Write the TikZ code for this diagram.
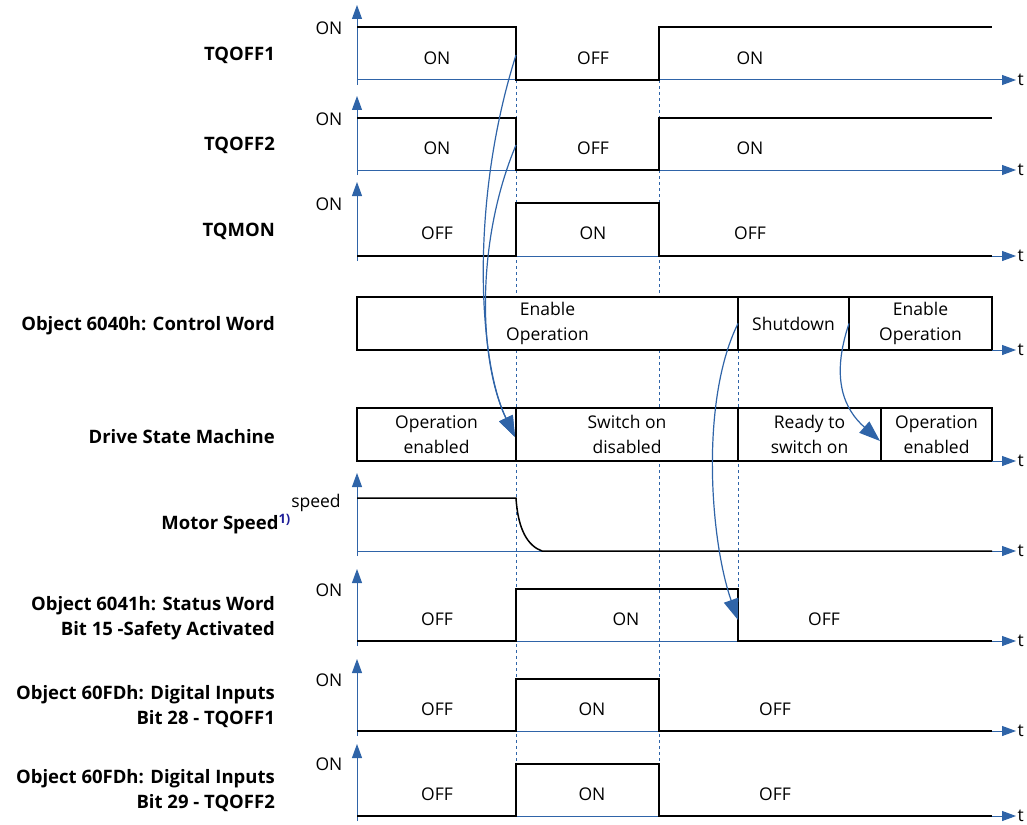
\documentclass[tikz,border=0pt]{standalone}
\usepackage{fontspec}
\setmainfont{Open Sans}
\usetikzlibrary{arrows.meta}
\definecolor{Axis}{HTML}{2F64A8}
\definecolor{Note}{HTML}{1F1F99}

\begin{document}
\begin{tikzpicture}[x=1pt, y=-1pt, every node/.style={font=\fontsize{17.5}{25}\selectfont}]
        \tikzstyle{lbl}=[anchor=east, align=right, inner sep=1pt, font=\fontsize{18.5}{25}\selectfont\bfseries]
        \tikzstyle{val}=[inner sep=1pt]
        \tikzstyle{box}=[draw, line width=1.5pt, fill=white, align=center, minimum height=53pt, inner sep=0pt, outer sep=0pt]
        \tikzstyle{sig}=[line width=1.5pt]
        \tikzstyle{taxis}=[Axis, line width=1pt, -{Triangle[length=14pt,width=10pt]}]
        \tikzstyle{guide}=[Axis, line width=1pt, dash pattern=on 3pt off 3pt]
        \tikzstyle{cause}=[Axis, line width=1.2pt, -{Triangle[length=21pt,width=15pt]}]
        \useasboundingbox (0,0) rectangle (1027,824);
        % time marks
        \draw[guide] (516,80) -- (516,764);
        \draw[guide] (659,80) -- (659,764);
        \draw[guide] (738,350) -- (738,589);
        % control word and drive state
        \node[box, minimum width=381pt] (cw1) at (547.5,323.5) {Enable\\Operation};
        \node[box, minimum width=111pt] (cw2) at (793.5,323.5) {Shutdown};
        \node[box, minimum width=143pt] (cw3) at (920.5,323.5) {Enable\\Operation};
        \node[box, minimum width=159pt] (ds1) at (436.5,434.5) {Operation\\enabled};
        \node[box, minimum width=222pt] (ds2) at (627,434.5) {Switch on\\disabled};
        \node[box, minimum width=143pt] (ds3) at (809.5,434.5) {Ready to\\switch on};
        \node[box, minimum width=111pt] (ds4) at (936.5,434.5) {Operation\\enabled};
        \draw[taxis] (cw3.south east) -- ++(24,0) node[right, black, inner sep=1pt] (tcw) {t};
        \draw[taxis] (ds4.south east) -- ++(24,0) node[right, black, inner sep=1pt] (tds) {t};
        % axes
        \foreach \a/\h in {80/5,170/96,256/182,551/473,641/569,731/659,816/744} {
          \draw[taxis] (357,\a+5) -- (357,\h);
          \draw[taxis] (357,\a) -- (1016,\a) node[right, black, inner sep=1pt] (t\a) {t};
        }
        % signals
        \draw[sig] (357,27) -- (516,27) -- (516,80) -- (659,80) -- (659,27) -- (992,27);
        \draw[sig] (357,118) -- (516,118) -- (516,170) -- (659,170) -- (659,118) -- (992,118);
        \draw[sig] (357,256) -- (516,256) -- (516,203) -- (659,203) -- (659,256) -- (992,256);
        \draw[sig] (357,498) -- (516,498) .. controls (518,530) and (528,546) .. (542,551) -- (992,551);
        \draw[sig] (357,641) -- (516,641) -- (516,589) -- (738,589) -- (738,641) -- (992,641);
        \draw[sig] (357,731) -- (516,731) -- (516,679) -- (659,679) -- (659,731) -- (992,731);
        \draw[sig] (357,816) -- (516,816) -- (516,764) -- (659,764) -- (659,816) -- (992,816);
        % levels
        \node[val] (h1) at (329,28) {ON};
        \node[val] (h2) at (329,119) {ON};
        \node[val] (h3) at (329,204) {ON};
        \node[val] (h6) at (316,503) {speed};
        \node[val] (h7) at (329,590) {ON};
        \node[val] (h8) at (329,680) {ON};
        \node[val] (h9) at (329,764) {ON};
        \node[val] (a1) at (437,58) {ON};
        \node[val] (b1) at (593,58) {OFF};
        \node[val] (c1) at (750,58) {ON};
        \node[val] (a2) at (437,148) {ON};
        \node[val] (b2) at (593,148) {OFF};
        \node[val] (c2) at (750,148) {ON};
        \node[val] (a3) at (437,233) {OFF};
        \node[val] (b3) at (593,233) {ON};
        \node[val] (c3) at (750,233) {OFF};
        \node[val] (a7) at (437,619) {OFF};
        \node[val] (b7) at (626,619) {ON};
        \node[val] (c7) at (824,619) {OFF};
        \node[val] (a8) at (437,709) {OFF};
        \node[val] (b8) at (592,709) {ON};
        \node[val] (c8) at (775,709) {OFF};
        \node[val] (a9) at (437,794) {OFF};
        \node[val] (b9) at (592,794) {ON};
        \node[val] (c9) at (775,794) {OFF};
        % signal names
        \node[lbl] (q1) at (276,55) {TQOFF1};
        \node[lbl] (q2) at (276,145) {TQOFF2};
        \node[lbl] (qm) at (276,231) {TQMON};
        \node[lbl] (cw) at (276,326) {Object 6040h: Control Word};
        \node[lbl] (dsm) at (276,437) {Drive State Machine};
        \node[lbl] (ms) at (292,524) {Motor Speed\textsuperscript{\color{Note}1)}};
        \node[lbl] (sw) at (276,618) {Object 6041h: Status Word\\Bit 15 -Safety Activated};
        \node[lbl] (di1) at (276,707) {Object 60FDh: Digital Inputs\\Bit 28 - TQOFF1};
        \node[lbl] (di2) at (276,791) {Object 60FDh: Digital Inputs\\Bit 29 - TQOFF2};
        % causes
        \coordinate (e1) at (516,55);
        \coordinate (e2) at (516,145);
        \coordinate (s1) at (515,437);
        \coordinate (s2) at (738,620);
        \coordinate (s3) at (880,441);
        \draw[cause] (e1) .. controls (470,200) and (478,360) .. (s1);
        \draw[cause] (e2) .. controls (476,240) and (478,360) .. (s1);
        \draw[cause] (cw1.east) .. controls (700,400) and (710,540) .. (s2);
        \draw[cause] (cw2.east) .. controls (830,380) and (845,410) .. (s3);
\end{tikzpicture}
\end{document}
